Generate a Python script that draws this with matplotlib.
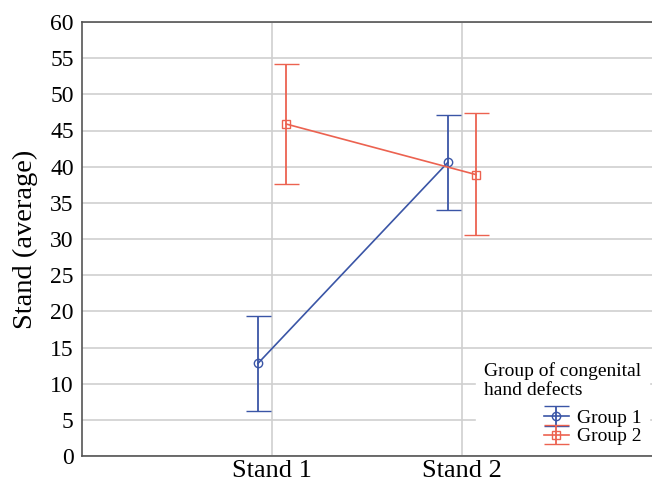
import numpy as np
import matplotlib
matplotlib.use("Agg")
import matplotlib.pyplot as plt

# data
stands = ["Stand 1", "Stand 2"]
groups = ["Group 1", "Group 2"]
g1_mean = [12.8, 40.6]
g1_low = [6.2, 34.0]
g1_high = [19.3, 47.2]
g2_mean = [45.9, 38.9]
g2_low = [37.6, 30.6]
g2_high = [54.2, 47.4]

blue = "#3a55a6"
red = "#ec6250"

plt.rcParams["font.family"] = ["Liberation Serif", "DejaVu Serif"]

fig = plt.figure(figsize=(6.52, 4.84), dpi=100)
ax = fig.add_axes([82/652, 28/484, 570/652, 434/484])

x = np.arange(1, len(stands) + 1)
off = 0.074

for means, lows, highs, col, mk, lab, dx in [
        (g1_mean, g1_low, g1_high, blue, "o", groups[0], -off),
        (g2_mean, g2_low, g2_high, red, "s", groups[1], off)]:
    m = np.array(means)
    yerr = [m - np.array(lows), np.array(highs) - m]
    ax.errorbar(x + dx, m, yerr=yerr, color=col, marker=mk, markersize=6,
                markerfacecolor="none", markeredgewidth=1.0, linewidth=1.2,
                elinewidth=1.3, capsize=9, capthick=1.3, label=lab, zorder=3)

ax.set_xlim(0, 3)
ax.set_ylim(0, 60)
ax.set_yticks(np.arange(0, 61, 5))
ax.set_xticks(x)
ax.set_xticklabels(stands)
ax.grid(True, color="#cfcfcf", linewidth=1.2, zorder=0)
ax.set_axisbelow(True)
ax.tick_params(axis="y", length=0, labelsize=17, pad=6)
ax.tick_params(axis="x", length=0, labelsize=19, pad=3)
ax.set_ylabel("Stand (average)", fontsize=20.5, labelpad=9)

for s in ["left", "bottom", "top"]:
    ax.spines[s].set_color("#555555")
    ax.spines[s].set_linewidth(1.2)
ax.spines["right"].set_visible(False)

leg = ax.legend(title="Group of congenital\nhand defects", loc="lower right",
                bbox_to_anchor=(1.0, 0.0), frameon=True, fontsize=14,
                title_fontsize=14, handlelength=1.3, handletextpad=0.4,
                labelspacing=0.05, borderaxespad=0.15, alignment="right")
leg.get_frame().set_edgecolor("white")
leg.get_frame().set_facecolor("white")
leg.get_frame().set_alpha(1)
leg.get_title().set_multialignment("left")
leg._legend_box.sep = 7

fig.savefig("out.png", dpi=100)
